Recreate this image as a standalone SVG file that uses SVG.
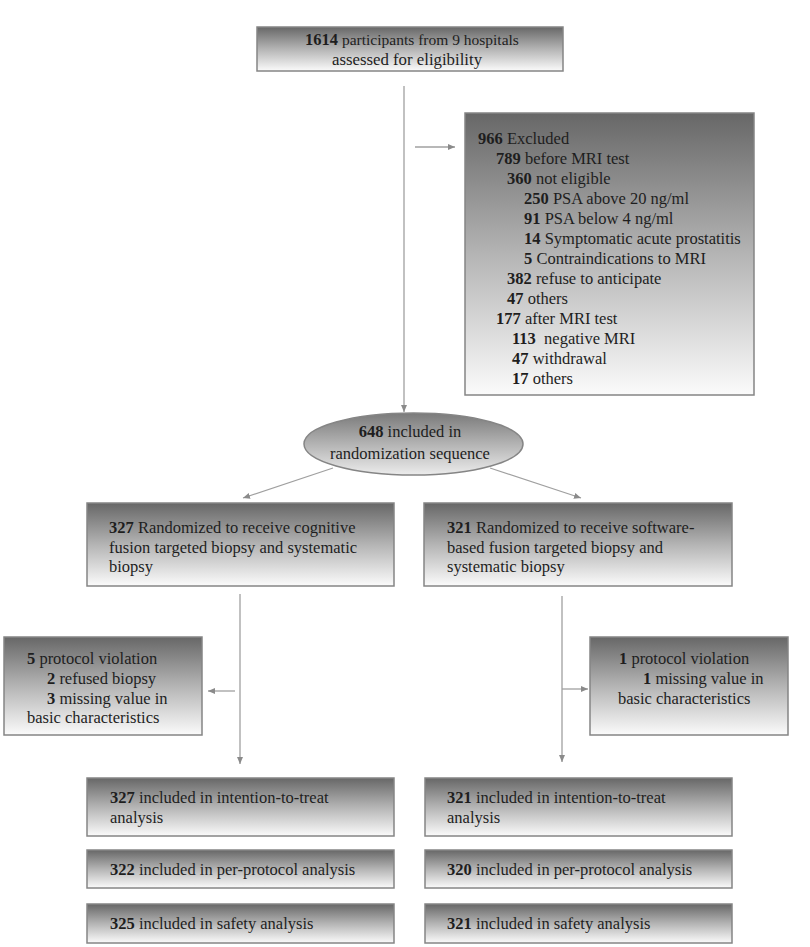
<svg xmlns="http://www.w3.org/2000/svg" width="810" height="947" viewBox="0 0 810 947">
<defs>
<linearGradient id="g" x1="0" y1="0" x2="0" y2="1">
<stop offset="0" stop-color="#676767"/>
<stop offset="0.5" stop-color="#b4b4b4"/>
<stop offset="1" stop-color="#fbfbfb"/>
</linearGradient>
<linearGradient id="ge" x1="0" y1="0" x2="0" y2="1">
<stop offset="0" stop-color="#7a7a7a"/>
<stop offset="1" stop-color="#ececec"/>
</linearGradient>
<marker id="ah" markerWidth="8" markerHeight="8" refX="7" refY="4" orient="auto" markerUnits="userSpaceOnUse">
<path d="M0,1 L7,4 L0,7 Z" fill="#8a8a8a"/>
</marker>
<style>
.box{fill:url(#g);stroke:#858585;stroke-width:1.5}
.el{fill:url(#ge);stroke:#858585;stroke-width:1.5}
.ln{fill:none;stroke:#a0a0a0;stroke-width:1.3;marker-end:url(#ah)}
text{font-family:"Liberation Serif","Times New Roman",serif;font-size:16.5px;fill:#1e1e1e}
.b{font-weight:bold}
</style>
</defs>
<rect width="810" height="947" fill="#ffffff"/>

<g id="connectors">
<path class="ln" d="M404,86 L404,412"/>
<path class="ln" d="M415,147 L455,147"/>
<path class="ln" d="M333,468 L243,498"/>
<path class="ln" d="M490,468 L581,498"/>
<path class="ln" d="M240,594 L240,764"/>
<path class="ln" d="M235,691 L208,691"/>
<path class="ln" d="M562,596 L562,762"/>
<path class="ln" d="M562,689 L588,689"/>
</g>

<g id="n-eligibility">
<rect class="box" x="257" y="27" width="306" height="44"/>
<text x="412" y="45" text-anchor="middle"><tspan class="b">1614</tspan><tspan style="font-size:15.5px"> participants from 9 hospitals</tspan></text>
<text x="407" y="65" text-anchor="middle" style="font-size:16.8px">assessed for eligibility</text>
</g>

<g id="n-excluded">
<rect class="box" x="465" y="113" width="289" height="282"/>
<text x="478" y="144"><tspan class="b">966</tspan> Excluded</text>
<text x="496" y="164"><tspan class="b">789</tspan> before MRI test</text>
<text x="507" y="184"><tspan class="b">360</tspan> not eligible</text>
<text x="524" y="204"><tspan class="b">250</tspan> PSA above 20 ng/ml</text>
<text x="524" y="224"><tspan class="b">91</tspan> PSA below 4 ng/ml</text>
<text x="524" y="244"><tspan class="b">14</tspan> Symptomatic acute prostatitis</text>
<text x="524" y="264"><tspan class="b">5</tspan> Contraindications to MRI</text>
<text x="507" y="284"><tspan class="b">382</tspan> refuse to anticipate</text>
<text x="507" y="304"><tspan class="b">47</tspan> others</text>
<text x="496" y="324"><tspan class="b">177</tspan> after MRI test</text>
<text x="512" y="344" style="white-space:pre"><tspan class="b">113</tspan>  negative MRI</text>
<text x="512" y="364"><tspan class="b">47</tspan> withdrawal</text>
<text x="512" y="384"><tspan class="b">17</tspan> others</text>
</g>

<g id="n-randomization">
<ellipse class="el" cx="413.5" cy="444" rx="109.5" ry="31"/>
<text x="410" y="437" text-anchor="middle"><tspan class="b">648</tspan> included in</text>
<text x="410" y="459" text-anchor="middle">randomization sequence</text>
</g>

<g id="n-cognitive">
<rect class="box" x="87" y="503" width="307" height="83"/>
<text x="109" y="533"><tspan class="b">327</tspan> Randomized to receive cognitive</text>
<text x="109" y="553">fusion targeted biopsy and systematic</text>
<text x="109" y="572">biopsy</text>
</g>

<g id="n-software">
<rect class="box" x="424" y="503" width="308" height="83"/>
<text x="447" y="533"><tspan class="b">321</tspan> Randomized to receive software-</text>
<text x="447" y="553">based fusion targeted biopsy and</text>
<text x="447" y="572">systematic biopsy</text>
</g>

<g id="n-violation-left">
<rect class="box" x="4" y="637" width="198" height="98"/>
<text x="27" y="664"><tspan class="b">5</tspan> protocol violation</text>
<text x="47" y="684"><tspan class="b">2</tspan> refused biopsy</text>
<text x="47" y="704"><tspan class="b">3</tspan> missing value in</text>
<text x="27" y="723">basic characteristics</text>
</g>

<g id="n-violation-right">
<rect class="box" x="590" y="637" width="198" height="98"/>
<text x="619" y="664"><tspan class="b">1</tspan> protocol violation</text>
<text x="643" y="684"><tspan class="b">1</tspan> missing value in</text>
<text x="618" y="704">basic characteristics</text>
</g>

<g id="n-itt-left">
<rect class="box" x="87" y="778" width="307" height="58"/>
<text x="110" y="803"><tspan class="b">327</tspan> included in intention-to-treat</text>
<text x="110" y="823">analysis</text>
</g>
<g id="n-pp-left">
<rect class="box" x="87" y="850" width="307" height="38"/>
<text x="110" y="875"><tspan class="b">322</tspan> included in per-protocol analysis</text>
</g>
<g id="n-safety-left">
<rect class="box" x="87" y="904" width="307" height="39"/>
<text x="110" y="929"><tspan class="b">325</tspan> included in safety analysis</text>
</g>

<g id="n-itt-right">
<rect class="box" x="425" y="778" width="307" height="58"/>
<text x="447" y="803"><tspan class="b">321</tspan> included in intention-to-treat</text>
<text x="447" y="823">analysis</text>
</g>
<g id="n-pp-right">
<rect class="box" x="425" y="850" width="307" height="38"/>
<text x="447" y="875"><tspan class="b">320</tspan> included in per-protocol analysis</text>
</g>
<g id="n-safety-right">
<rect class="box" x="425" y="904" width="307" height="39"/>
<text x="447" y="929"><tspan class="b">321</tspan> included in safety analysis</text>
</g>
</svg>
